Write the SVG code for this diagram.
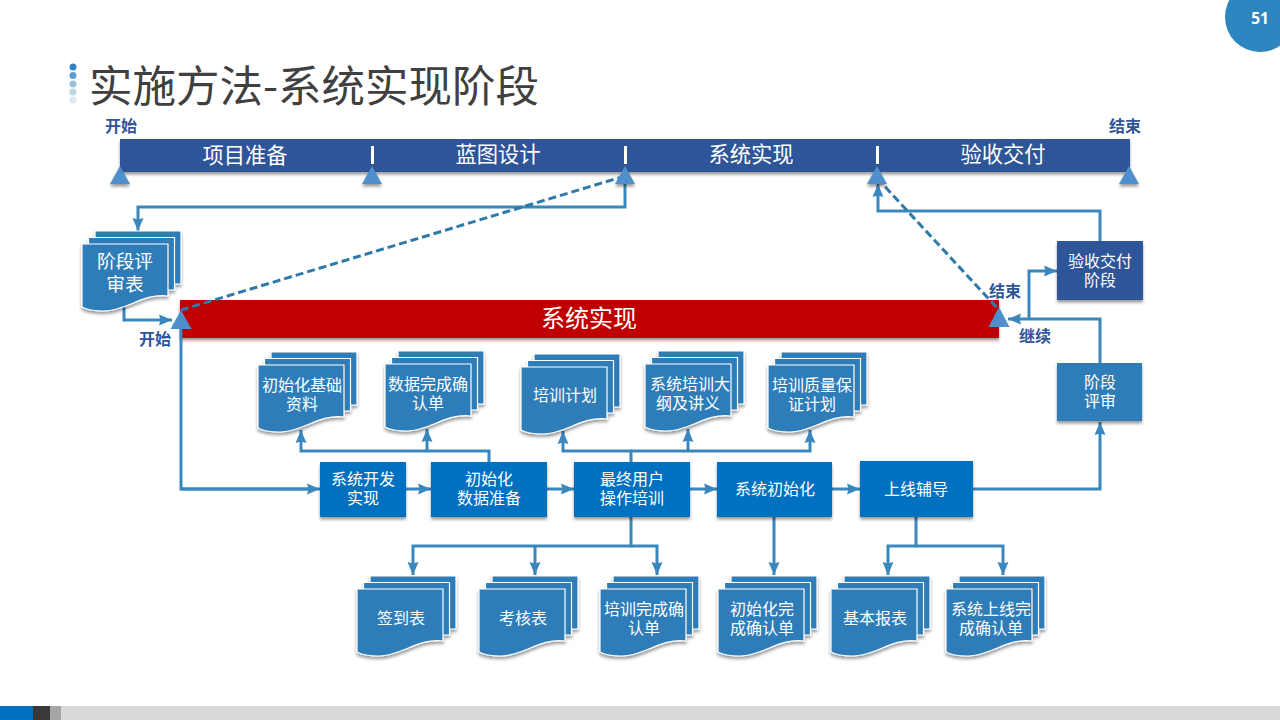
<svg xmlns="http://www.w3.org/2000/svg" width="1280" height="720" viewBox="0 0 1280 720">
<style>
text{font-family:"Noto Sans CJK SC","Noto Sans",sans-serif;text-anchor:middle}
.t16{font-size:16px;fill:#fff}
.t21{font-size:21.3px;fill:#fff}
.t19{font-size:18.7px;fill:#fff}
.lbl{font-size:16px;font-weight:700;fill:#2F5597}
.box{filter:url(#sh)}
.tri{fill:#4F8FCB}
.c{fill:none;stroke:#3A87BE;stroke-width:3;stroke-linejoin:miter}
.a{marker-end:url(#ah)}
.d{fill:none;stroke:#2F7AA8;stroke-width:3;stroke-dasharray:8 4}
.doc{fill:#2E7DB8;stroke:#fff;stroke-width:1.2}
</style>
<defs>
<filter id="sh" x="-20%" y="-20%" width="140%" height="150%"><feDropShadow dx="0" dy="2.5" stdDeviation="1.6" flood-color="#000" flood-opacity=".4"/></filter>
<marker id="ah" markerUnits="userSpaceOnUse" markerWidth="14" markerHeight="12" refX="13" refY="6" orient="auto"><path d="M0,.5 L13,6 L0,11.500 L1.500,6Z" fill="#3A87BE"/></marker>
<path id="page" class="doc" d="M0,0H86V52C60,49 45,67 22,67C12,67 5,66 0,63Z"/>
<g id="stack" filter="url(#sh)">
<path class="doc" d="M13,-13H99V40H13Z"/>
<path class="doc" d="M6.500,-6.500H92.500V46H6.500Z"/>
<use href="#page"/>
</g>
</defs>
<rect width="1280" height="720" fill="#fff"/>
<g id="page-number"><circle cx="1260" cy="17" r="35" fill="#2E86C1"/><text x="1260" y="24" style="font-family:'Open Sans','DejaVu Sans',sans-serif;font-size:15.500px;font-weight:700;fill:#fff">51</text></g>
<g id="title">
<circle cx="73" cy="67" r="3.500" fill="#2E86C1"/><circle cx="73" cy="75.500" r="3.500" fill="#5B9BD5"/><circle cx="73" cy="84" r="3.500" fill="#9DBFD6"/><circle cx="73" cy="92" r="3.500" fill="#BCD6E6"/><circle cx="73" cy="100" r="3.500" fill="#DCE9F1"/>
<text x="314" y="102" style="font-size:43.500px;fill:#404040">实施方法-系统实现阶段</text>
</g>
<g id="footer"><rect y="706" width="1280" height="14" fill="#D9D9D9"/><rect y="706" width="33" height="14" fill="#0070C0"/><rect x="33" y="706" width="17" height="14" fill="#3B3838"/><rect x="50" y="706" width="11" height="14" fill="#A6A6A6"/></g>
<g id="phase-bar">
<rect class="box" x="120" y="139" width="1010" height="33" fill="#2F5597"/>
<g fill="#fff"><rect x="371" y="146" width="3" height="18"/><rect x="624" y="146" width="3" height="18"/><rect x="876" y="146" width="3" height="18"/></g>
<text class="t21" x="245" y="163">项目准备</text><text class="t21" x="498" y="162">蓝图设计</text><text class="t21" x="751" y="162">系统实现</text><text class="t21" x="1003" y="162">验收交付</text>
</g>
<g id="main-bar"><rect class="box" x="180" y="300" width="819" height="38" fill="#C00000"/><text x="589" y="327" style="font-size:24px;fill:#fff">系统实现</text></g>
<g id="connectors">
<path class="c a" d="M625,180V207H138V231"/>
<path class="c a" d="M124,307V320H172"/>
<path class="c" d="M181,328V489H310"/>
<path class="c a" d="M181,489H320"/>
<path class="c a" d="M406,489H431"/>
<path class="c a" d="M547,489H574"/>
<path class="c a" d="M690,489H717"/>
<path class="c a" d="M832,489H860"/>
<path class="c a" d="M973,489H1100V422"/>
<path class="c a" d="M1100,363V319H1008"/>
<path class="c a" d="M1029,319V271H1057"/>
<path class="c a" d="M1100,241V211H878V184"/>
<path class="c a" d="M489,462V451H301V430"/>
<path class="c a" d="M427,451V429"/>
<path class="c a" d="M631,462V451H563V431"/>
<path class="c a" d="M688,451V429"/>
<path class="c a" d="M631,451H810V430"/>
<path class="c a" d="M631,517V546H413V575"/>
<path class="c a" d="M535,546V575"/>
<path class="c a" d="M631,546H657V575"/>
<path class="c a" d="M774,517V575"/>
<path class="c a" d="M916,517V546H888V575"/>
<path class="c a" d="M916,546H1003V575"/>
<path class="d" d="M625,176L181,310"/>
<path class="d" d="M877,178L999,310"/>
</g>
<g id="markers" class="tri">
<path class="box" d="M120,166L130,184H110Z"/><path class="box" d="M372,166L382,184H362Z"/><path class="box" d="M625,166L635,184H615Z"/><path class="box" d="M877,166L887,184H867Z"/><path class="box" d="M1129,166L1139,184H1119Z"/>
<path d="M181,310L191.500,329H170.500Z"/><path d="M999,307L1009.500,327H988.500Z"/>
</g>
<g id="labels">
<text class="lbl" x="121" y="132">开始</text><text class="lbl" x="1125" y="132">结束</text><text class="lbl" x="155" y="345">开始</text><text class="lbl" x="1005" y="297">结束</text><text class="lbl" x="1035" y="342">继续</text>
</g>
<g id="doc-review"><use href="#stack" x="82" y="244"/><text class="t19"><tspan x="125" y="268">阶段评</tspan><tspan x="125" y="291">审表</tspan></text></g>
<g id="doc-1"><use href="#stack" x="258" y="365"/><text class="t16"><tspan x="302" y="391">初始化基础</tspan><tspan x="302" y="410">资料</tspan></text></g>
<g id="doc-2"><use href="#stack" x="385" y="364"/><text class="t16"><tspan x="428" y="390">数据完成确</tspan><tspan x="428" y="409">认单</tspan></text></g>
<g id="doc-3"><use href="#stack" x="521" y="367"/><text class="t16" x="565" y="401">培训计划</text></g>
<g id="doc-4"><use href="#stack" x="645" y="364"/><text class="t16"><tspan x="690" y="390">系统培训大</tspan><tspan x="688" y="409">纲及讲义</tspan></text></g>
<g id="doc-5"><use href="#stack" x="768" y="365"/><text class="t16"><tspan x="812" y="391">培训质量保</tspan><tspan x="812" y="410">证计划</tspan></text></g>
<g id="doc-6"><use href="#stack" x="357" y="589"/><text class="t16" x="401" y="624">签到表</text></g>
<g id="doc-7"><use href="#stack" x="479" y="589"/><text class="t16" x="523" y="624">考核表</text></g>
<g id="doc-8"><use href="#stack" x="600" y="589"/><text class="t16"><tspan x="644" y="615">培训完成确</tspan><tspan x="644" y="634">认单</tspan></text></g>
<g id="doc-9"><use href="#stack" x="718" y="589"/><text class="t16"><tspan x="762" y="615">初始化完</tspan><tspan x="762" y="634">成确认单</tspan></text></g>
<g id="doc-10"><use href="#stack" x="831" y="589"/><text class="t16" x="875" y="624">基本报表</text></g>
<g id="doc-11"><use href="#stack" x="946" y="589"/><text class="t16"><tspan x="991" y="615">系统上线完</tspan><tspan x="991" y="634">成确认单</tspan></text></g>
<g id="box-1"><rect class="box" x="320" y="462" width="86" height="55" fill="#0070C0"/><text class="t16"><tspan x="363" y="485">系统开发</tspan><tspan x="363" y="504">实现</tspan></text></g>
<g id="box-2"><rect class="box" x="431" y="462" width="116" height="55" fill="#0070C0"/><text class="t16"><tspan x="489" y="485">初始化</tspan><tspan x="489" y="504">数据准备</tspan></text></g>
<g id="box-3"><rect class="box" x="574" y="462" width="116" height="55" fill="#0070C0"/><text class="t16"><tspan x="632" y="485">最终用户</tspan><tspan x="632" y="504">操作培训</tspan></text></g>
<g id="box-4"><rect class="box" x="717" y="462" width="115" height="55" fill="#0070C0"/><text class="t16" x="775" y="495">系统初始化</text></g>
<g id="box-5"><rect class="box" x="860" y="461" width="113" height="56" fill="#0070C0"/><text class="t16" x="916" y="495">上线辅导</text></g>
<g id="box-accept"><rect class="box" x="1057" y="241" width="86" height="59" fill="#2F5597"/><text class="t16"><tspan x="1100" y="267">验收交付</tspan><tspan x="1100" y="286">阶段</tspan></text></g>
<g id="box-review"><rect class="box" x="1057" y="363" width="85" height="58" fill="#2E7DB8"/><text class="t16"><tspan x="1100" y="388">阶段</tspan><tspan x="1100" y="407">评审</tspan></text></g>
</svg>
